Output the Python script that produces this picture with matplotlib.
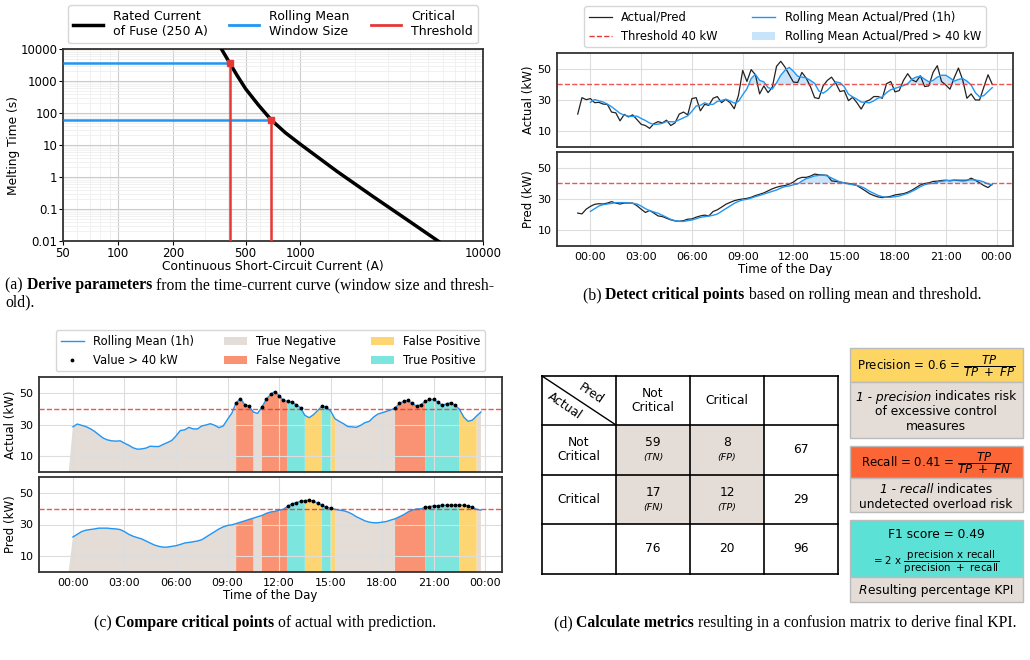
import numpy as np
import pandas as pd
import matplotlib
matplotlib.use('Agg')
import matplotlib.pyplot as plt
import matplotlib.dates as mdates
from matplotlib.lines import Line2D
from matplotlib.patches import Patch, Rectangle

# ---- (a) fuse time-current curve ----
fuse_current = [350, 369, 410, 450, 500, 590, 693, 828, 1000, 1585, 2512, 3981, 5985]
fuse_time = [17000, 10000, 3600, 1480, 575, 174, 60, 24, 10.5, 1.5, 0.24, 0.04, 0.0081]
crit_current = [410, 693]
crit_time = [3600, 60]
a_xticks = [50, 100, 200, 500, 1000, 10000]
a_yticks = [0.01, 0.1, 1, 10, 100, 1000, 10000]
a_yticklabels = ['0.01', '0.1', '1', '10', '100', '1000', '10000']

# ---- (b)/(c) load profiles, 15 min resolution, starting 23:15 the day before ----
actual = [21.0, 31.5, 30.2, 30.9, 28.3, 28.5, 27.4, 27.2, 22.3, 21.8, 16.7, 20.8,
          19.2, 20.5, 17.5, 14.5, 13.7, 11.9, 14.9, 16.2, 15.4, 17.1, 13.7, 15.4,
          21.0, 22.3, 20.5, 30.9, 31.5, 23.1, 27.2, 26.6, 31.1, 32.2, 28.3, 30.4,
          28.3, 24.4, 33.0, 48.9, 41.8, 49.4, 46.1, 33.9, 39.0, 34.7, 38.2, 51.5,
          54.7, 51.0, 46.1, 41.4, 41.2, 47.6, 44.0, 38.6, 31.5, 30.9, 39.0, 42.5,
          44.6, 40.7, 35.4, 36.0, 29.6, 31.7, 28.3, 24.2, 28.9, 30.0, 32.2, 32.2,
          31.1, 40.4, 41.8, 35.2, 36.0, 42.5, 46.8, 42.9, 41.6, 45.5, 38.6, 39.0,
          47.6, 51.9, 41.8, 39.6, 36.9, 44.2, 50.4, 42.9, 31.1, 33.9, 30.0, 30.0,
          38.2, 46.1, 40.0]
pred = [21.0, 20.5, 23.5, 25.3, 26.6, 27.0, 26.8, 27.4, 28.3, 27.4, 26.8, 27.4,
        27.4, 27.4, 25.7, 23.5, 21.4, 22.7, 21.0, 19.2, 18.8, 17.7, 16.7, 16.0,
        15.8, 16.2, 17.1, 17.3, 18.4, 19.2, 19.7, 19.2, 22.0, 23.1, 24.8, 26.6,
        27.8, 28.9, 29.6, 30.0, 30.4, 31.1, 32.2, 33.0, 33.9, 35.2, 36.5, 37.5,
        38.2, 38.6, 39.5, 40.8, 42.9, 43.8, 43.8, 44.6, 45.9, 45.5, 45.3, 45.1,
        41.6, 41.2, 40.8, 40.3, 39.9, 39.5, 38.6, 36.9, 35.2, 33.4, 32.2, 31.3,
        30.9, 31.3, 31.7, 32.6, 33.0, 33.4, 34.3, 35.6, 37.3, 39.0, 39.9, 40.3,
        41.2, 41.4, 41.8, 42.0, 41.6, 42.0, 41.8, 41.6, 41.8, 43.3, 42.0, 40.3,
        38.6, 37.3, 39.5]
# rolling mean (1h), starts at 00:00
actual_roll = [28.5, 30.3, 29.5, 28.7, 27.4, 25.7, 23.6, 21.5, 20.3, 19.7, 19.5, 19.7,
               18.2, 16.9, 15.3, 14.4, 14.6, 15.1, 16.3, 16.1, 16.1, 17.4, 18.6, 19.9,
               22.8, 26.2, 26.6, 28.2, 27.2, 27.2, 29.1, 29.7, 30.5, 29.5, 28.0, 29.1,
               33.3, 37.2, 43.7, 46.4, 42.5, 41.6, 37.9, 37.0, 41.0, 45.8, 49.0, 50.8,
               48.3, 45.2, 44.6, 44.1, 42.5, 40.6, 35.8, 34.3, 36.2, 38.9, 41.6, 41.0,
               38.5, 33.7, 32.0, 30.5, 28.7, 28.5, 28.2, 29.5, 31.2, 32.0, 34.7, 36.6,
               37.4, 38.3, 39.2, 40.4, 43.3, 44.6, 45.2, 43.3, 41.6, 42.5, 44.6, 45.8,
               45.8, 44.1, 42.1, 43.1, 43.7, 42.1, 39.6, 34.7, 32.0, 32.8, 35.4, 37.9]
pred_roll = [22.1, 23.8, 25.5, 26.4, 26.8, 27.2, 27.7, 27.7, 27.7, 27.4, 27.2, 26.8,
             25.5, 23.8, 22.6, 21.7, 20.9, 19.6, 18.3, 17.0, 16.2, 15.7, 15.7, 16.2,
             16.6, 17.4, 18.3, 18.7, 19.1, 19.6, 20.4, 22.1, 23.8, 25.5, 27.2, 28.5,
             29.4, 29.8, 30.6, 31.5, 32.3, 33.2, 34.0, 34.9, 35.7, 37.0, 37.9, 38.3,
             39.1, 39.6, 41.5, 43.0, 43.8, 44.7, 45.1, 45.3, 44.7, 43.4, 42.1, 40.9,
             40.3, 39.6, 39.1, 38.7, 37.9, 36.6, 34.9, 33.6, 32.3, 31.5, 31.1, 31.1,
             31.5, 31.9, 32.8, 33.6, 34.9, 36.2, 37.9, 39.1, 39.8, 39.9, 40.8, 41.3,
             41.7, 41.9, 42.1, 42.1, 42.1, 42.1, 42.3, 42.1, 41.7, 40.9, 39.6, 39.1]
threshold = 40

# ---- (d) confusion matrix ----
class_labels = ['Not\nCritical', 'Critical']
cm = [[59, 8], [17, 12]]
cm_tags = [['TN', 'FP'], ['FN', 'TP']]

W, H = 1030, 660
BLUE = '#2196f3'
RED = '#e53935'
GREY_FILL = '#e3dcd7'
cat_colors = {'True Negative': '#e3dcd7', 'False Negative': '#fa9373',
              'False Positive': '#fdd673', 'True Positive': '#7ce6de'}

plt.rcParams['font.size'] = 8
plt.rcParams['axes.edgecolor'] = '#333333'
plt.rcParams['axes.linewidth'] = 1.3


def box(l, t, r, b):
    return [l / W, 1 - b / H, (r - l) / W, (b - t) / H]


def style_ts(ax):
    ax.grid(True, color='#dddddd', lw=0.8)
    ax.tick_params(length=0, pad=4)
    ax.set_ylim(0, 60)
    ax.set_yticks([10, 30, 50])
    ax.xaxis.set_major_locator(mdates.HourLocator(byhour=range(0, 24, 3)))
    ax.xaxis.set_major_formatter(mdates.DateFormatter('%H:%M'))


fig = plt.figure(figsize=(W / 100, H / 100), dpi=100)
renderer = fig.canvas.get_renderer()


def rich(x, y, parts, align='left', **kw):
    # place runs of differently styled text next to each other (pixel coords)
    texts = []
    for s, props in parts:
        t = fig.text(0, 1 - y / H, s, va='center', **kw, **props)
        texts.append(t)
    widths = [t.get_window_extent(renderer).width for t in texts]
    x0 = x - sum(widths) / 2 if align == 'center' else x
    for t, w in zip(texts, widths):
        t.set_x(x0 / W)
        x0 += w


# ================= (a) =================
ax_a = fig.add_axes(box(63, 49, 483, 241))
ax_a.set_xscale('log')
ax_a.set_yscale('log')
ax_a.set_xlim(50, 10000)
ax_a.set_ylim(0.01, 10000)
ax_a.grid(True, which='major', color='#cccccc', lw=0.8)
ax_a.grid(True, which='minor', color='#ececec', lw=0.5)
ax_a.plot(fuse_current, fuse_time, color='black', lw=2.5, zorder=3)
ax_a.hlines(crit_time, 50, crit_current, color=BLUE, lw=1.8, zorder=4)
ax_a.vlines(crit_current, 0.01, crit_time, color=RED, lw=1.8, zorder=4)
ax_a.plot(crit_current, crit_time, 's', color=RED, ms=5, zorder=5)
ax_a.set_xticks(a_xticks)
ax_a.set_xticklabels([str(v) for v in a_xticks])
ax_a.set_yticks(a_yticks)
ax_a.set_yticklabels(a_yticklabels)
ax_a.tick_params(which='minor', length=0, labelleft=False, labelbottom=False)
ax_a.tick_params(which='major', length=3, pad=1, labelsize=8.5)
ax_a.set_xlabel('Continuous Short-Circuit Current (A)', labelpad=0, fontsize=8.8)
ax_a.set_ylabel('Melting Time (s)', fontsize=8.8, labelpad=0)
a_handles = [Line2D([], [], color='black', lw=2.5), Line2D([], [], color=BLUE, lw=2),
             Line2D([], [], color=RED, lw=2)]
ax_a.legend(a_handles, ['Rated Current\nof Fuse (250 A)', 'Rolling Mean\nWindow Size',
                        'Critical\nThreshold'],
            ncol=3, loc='lower center', bbox_to_anchor=(0.5, 1.03), fontsize=9,
            handlelength=2.4, columnspacing=1.7, borderaxespad=0, labelspacing=0.2)

# ================= (b) =================
times = pd.date_range('2023-06-01 23:15', periods=len(actual), freq='15min')
times_roll = times[3:]

ax_b1 = fig.add_axes(box(557, 53, 1013, 147))
ax_b2 = fig.add_axes(box(557, 152, 1013, 246), sharex=ax_b1)
for ax, raw, roll, lab in [(ax_b1, actual, actual_roll, 'Actual (kW)'),
                           (ax_b2, pred, pred_roll, 'Pred (kW)')]:
    roll = np.array(roll)
    ax.plot(times, raw, color='#222222', lw=0.9)
    ax.plot(times_roll, roll, color=BLUE, lw=1.0)
    ax.axhline(threshold, color=RED, ls='--', lw=1, alpha=0.85)
    ax.fill_between(times_roll, threshold, roll, where=roll > threshold,
                    interpolate=True, color=BLUE, alpha=0.25, lw=0)
    style_ts(ax)
    ax.set_ylabel(lab, labelpad=2, fontsize=8.5)
ax_b1.tick_params(labelbottom=False)
ax_b2.set_xlabel('Time of the Day', labelpad=1, fontsize=8.5)
b_handles = [Line2D([], [], color='#222222', lw=0.9),
             Line2D([], [], color=RED, ls='--', lw=1),
             Line2D([], [], color=BLUE, lw=1),
             Patch(color=BLUE, alpha=0.25, lw=0)]
ax_b1.legend(b_handles, ['Actual/Pred', 'Threshold 40 kW', 'Rolling Mean Actual/Pred (1h)',
                         'Rolling Mean Actual/Pred > 40 kW'],
             ncol=2, loc='lower center', bbox_to_anchor=(0.5, 1.06), fontsize=8.3,
             columnspacing=3, borderaxespad=0)

# ================= (c) =================
act_full = pd.Series(actual_roll, index=times_roll).reindex(times).fillna(0)
pred_full = pd.Series(pred_roll, index=times_roll).reindex(times).fillna(0)
is_act = act_full > threshold
is_pred = pred_full > threshold
cats = {'True Negative': ~is_act & ~is_pred, 'False Negative': is_act & ~is_pred,
        'False Positive': ~is_act & is_pred, 'True Positive': is_act & is_pred}

ax_c1 = fig.add_axes(box(39, 377, 502, 472))
ax_c2 = fig.add_axes(box(39, 477, 502, 572), sharex=ax_c1)
for ax, full, roll, lab in [(ax_c1, act_full, actual_roll, 'Actual (kW)'),
                            (ax_c2, pred_full, pred_roll, 'Pred (kW)')]:
    roll = np.array(roll)
    for name, mask in cats.items():
        span = mask | mask.shift(1, fill_value=False)
        ax.fill_between(times, 0, full.values, where=span.values,
                        color=cat_colors[name], lw=0)
    ax.plot(times_roll, roll, color=BLUE, lw=1.0, zorder=3)
    ax.axhline(threshold, color=RED, ls='--', lw=1, alpha=0.85, zorder=3)
    above = roll > threshold
    ax.plot(times_roll[above], roll[above], '.', color='black', ms=3.5, zorder=4)
    style_ts(ax)
    ax.set_ylabel(lab, labelpad=2, fontsize=8.5)
ax_c1.tick_params(labelbottom=False)
ax_c2.set_xlabel('Time of the Day', labelpad=1, fontsize=8.5)
c_handles = [Line2D([], [], color=BLUE, lw=1),
             Line2D([], [], ls='', marker='.', color='black', ms=3.5)]
c_handles += [Patch(color=cat_colors[n], lw=0) for n in
              ['True Negative', 'False Negative', 'False Positive', 'True Positive']]
ax_c1.legend(c_handles, ['Rolling Mean (1h)', 'Value > 40 kW', 'True Negative',
                         'False Negative', 'False Positive', 'True Positive'],
             ncol=3, loc='lower center', bbox_to_anchor=(0.5, 1.06), fontsize=8.3,
             columnspacing=2.6, borderaxespad=0)

# ================= (d) =================
ax_d = fig.add_axes(box(520, 340, 1030, 610))
ax_d.set_xlim(520, 1030)
ax_d.set_ylim(610, 340)
ax_d.axis('off')

col_edges = [542, 616, 690, 764, 838]
row_edges = [376, 425, 475, 524, 574]
cx = [(col_edges[i] + col_edges[i + 1]) / 2 for i in range(4)]
cy = [(row_edges[i] + row_edges[i + 1]) / 2 for i in range(4)]
for i in range(2):
    for j in range(2):
        ax_d.add_patch(Rectangle((col_edges[j + 1], row_edges[i + 1]),
                                 col_edges[j + 2] - col_edges[j + 1],
                                 row_edges[i + 2] - row_edges[i + 1],
                                 color=GREY_FILL, lw=0))
        ax_d.text(cx[j + 1], cy[i + 1] - 7, str(cm[i][j]), ha='center', va='center', fontsize=8.8)
        ax_d.text(cx[j + 1], cy[i + 1] + 8, f'({cm_tags[i][j]})', ha='center', va='center',
                  fontsize=6.8, style='italic')
for x in col_edges:
    ax_d.plot([x, x], [row_edges[0], row_edges[-1]], color='black', lw=1.2)
for y in row_edges:
    ax_d.plot([col_edges[0], col_edges[-1]], [y, y], color='black', lw=1.2)
ax_d.plot([col_edges[0], col_edges[1]], [row_edges[0], row_edges[1]], color='black', lw=1)
ax_d.text(591, 394, 'Pred', rotation=-34, ha='center', va='center', fontsize=8.8)
ax_d.text(565, 406, 'Actual', rotation=-34, ha='center', va='center', fontsize=8.8)
for k, lab in enumerate(class_labels):
    ax_d.text(cx[k + 1], cy[0], lab, ha='center', va='center', fontsize=8.8,
              linespacing=1.1)
    ax_d.text(cx[0], cy[k + 1], lab, ha='center', va='center', fontsize=8.8,
              linespacing=1.1)
row_tot = [sum(r) for r in cm]
col_tot = [cm[0][j] + cm[1][j] for j in range(2)]
for k in range(2):
    ax_d.text(cx[3], cy[k + 1], str(row_tot[k]), ha='center', va='center', fontsize=8.8)
    ax_d.text(cx[k + 1], cy[3], str(col_tot[k]), ha='center', va='center', fontsize=8.8)
ax_d.text(cx[3], cy[3], str(sum(row_tot)), ha='center', va='center', fontsize=8.8)

tp, fp, fn = cm[1][1], cm[0][1], cm[1][0]
precision = tp / (tp + fp)
recall = tp / (tp + fn)
f1 = 2 * precision * recall / (precision + recall)


def panel_box(top, mid, bottom, color):
    ax_d.add_patch(Rectangle((850, top), 173, mid - top, facecolor=color,
                             edgecolor='#bbbbbb', lw=1))
    ax_d.add_patch(Rectangle((850, mid), 173, bottom - mid, facecolor=GREY_FILL,
                             edgecolor='#bbbbbb', lw=1))


it = {'style': 'italic'}
rm = {}
panel_box(348, 382, 438, '#fcd562')
ax_d.text(936, 366, f'Precision = {precision:.1f} = ' + r'$\dfrac{TP}{TP\ +\ FP}$',
          ha='center', va='center', fontsize=8.5)
rich(936, 397, [('1 - precision', it), (' indicates risk', rm)], align='center', fontsize=8.8)
rich(936, 411.5, [('of excessive control', rm)], align='center', fontsize=8.8)
rich(936, 426, [('measures', rm)], align='center', fontsize=8.8)

panel_box(446, 478, 512, '#fc6535')
ax_d.text(936, 463, f'Recall = {recall:.2f} = ' + r'$\dfrac{TP}{TP\ +\ FN}$',
          ha='center', va='center', fontsize=8.5)
rich(936, 489.5, [('1 - recall', it), (' indicates', rm)], align='center', fontsize=8.8)
rich(936, 504, [('undetected overload risk', rm)], align='center', fontsize=8.8)

panel_box(520, 577, 602, '#5ce1d6')
ax_d.text(936, 534.5, f'F1 score = {f1:.2f}', ha='center', va='center', fontsize=8.8)
ax_d.text(936, 562, r'= 2 x $\dfrac{\mathrm{precision\ x\ recall}}{\mathrm{precision\ +\ recall}}$',
          ha='center', va='center', fontsize=7.4)
rich(936, 590.5, [('R', it), ('esulting percentage KPI', rm)], align='center', fontsize=8.8)

# ================= captions =================
bold = {'fontweight': 'bold'}
cap = dict(fontsize=11.3, family='Liberation Serif')
rich(5, 285, [('(a) ', rm), ('Derive parameters', bold),
              (' from the time-current curve (window size and thresh-', rm)], **cap)
rich(5, 302, [('old).', rm)], **cap)
rich(782, 295, [('(b) ', rm), ('Detect critical points', bold),
                (' based on rolling mean and threshold.', rm)], align='center', **cap)
rich(265, 623, [('(c) ', rm), ('Compare critical points', bold),
                (' of actual with prediction.', rm)], align='center', **cap)
rich(785, 623, [('(d) ', rm), ('Calculate metrics', bold),
                (' resulting in a confusion matrix to derive final KPI.', rm)],
     align='center', **cap)

fig.savefig('out.png', dpi=100)
